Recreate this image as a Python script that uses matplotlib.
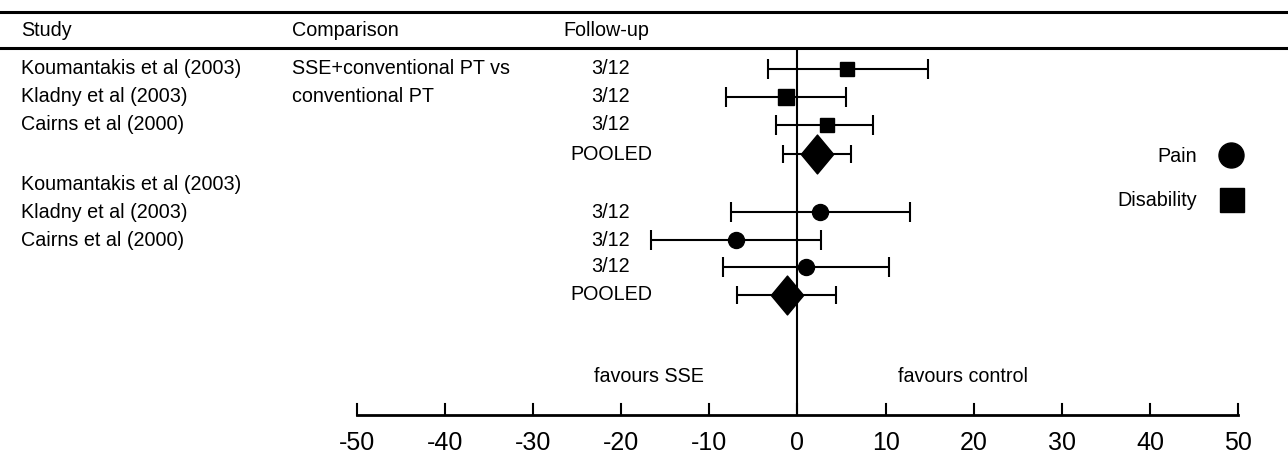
import matplotlib
matplotlib.use("Agg")
import matplotlib.pyplot as plt

plt.rcParams['font.family'] = ['Liberation Sans', 'DejaVu Sans']

# data
studies = ["Koumantakis et al (2003)", "Kladny et al (2003)", "Cairns et al (2000)"]
comparison = ["SSE+conventional PT vs", "conventional PT"]
follow_up = ["3/12", "3/12", "3/12"]

dis_est = [5.6, -1.3, 3.3]
dis_lo = [-3.4, -8.1, -2.4]
dis_hi = [14.8, 5.5, 8.6]
dis_pool = [2.2, -1.7, 6.1]   # est, lo, hi

pain_est = [2.6, -7.0, 1.0]
pain_lo = [-7.6, -16.6, -8.4]
pain_hi = [12.8, 2.7, 10.4]
pain_pool = [-1.2, -6.9, 4.4]

ticks = [-50, -40, -30, -20, -10, 0, 10, 20, 30, 40, 50]

# layout (pixel rows, x in effect units)
W, H = 1288, 457
x0, sc = 797.5, 8.81
def px(x):
    return (x - x0) / sc

dis_y = [69, 97, 125]
dis_pool_y = 154
pain_y = [212, 240, 267]
pain_pool_y = 295
label_y2 = [185, 213, 240]
sq_ms = [10, 12, 10.5]

fig = plt.figure(figsize=(W / 100, H / 100), dpi=100)
ax = fig.add_axes([0, 0, 1, 1])
ax.set_xlim(px(0), px(W))
ax.set_ylim(H, 0)
ax.axis('off')

fs = 14.2
# header lines
ax.axhline(12, color='black', lw=2.2)
ax.axhline(48, color='black', lw=2.2)
ax.text(px(21), 31, "Study", fontsize=fs, va='center')
ax.text(px(292), 31, "Comparison", fontsize=fs, va='center')
ax.text(px(563), 31, "Follow-up", fontsize=fs, va='center')

for i, s in enumerate(studies):
    ax.text(px(21), dis_y[i], s, fontsize=fs, va='center')
    ax.text(px(21), label_y2[i], s, fontsize=fs, va='center')
for i, c in enumerate(comparison):
    ax.text(px(292), dis_y[i], c, fontsize=fs, va='center')
for i, f in enumerate(follow_up):
    ax.text(px(611), dis_y[i], f, fontsize=fs, va='center', ha='center')
    ax.text(px(611), pain_y[i], f, fontsize=fs, va='center', ha='center')
ax.text(px(611), dis_pool_y, "POOLED", fontsize=fs, va='center', ha='center')
ax.text(px(611), pain_pool_y, "POOLED", fontsize=fs, va='center', ha='center')

# zero line
ax.plot([0, 0], [50, 415], color='black', lw=1.5)

ekw = dict(color='black', lw=1.5, capsize=7.5, capthick=1.5, ls='none')
for i in range(3):
    ax.errorbar(dis_est[i], dis_y[i],
                xerr=[[dis_est[i] - dis_lo[i]], [dis_hi[i] - dis_est[i]]],
                marker='s', ms=sq_ms[i], mfc='black', mec='black', **ekw)
    ax.errorbar(pain_est[i], pain_y[i],
                xerr=[[pain_est[i] - pain_lo[i]], [pain_hi[i] - pain_est[i]]],
                marker='o', ms=11.5, mfc='black', mec='black', **ekw)

diamond = [(-1, 0), (0, 1.2), (1, 0), (0, -1.2), (-1, 0)]
for (e, lo, hi), y in [(dis_pool, dis_pool_y), (pain_pool, pain_pool_y)]:
    ax.errorbar(e, y, xerr=[[e - lo], [hi - e]], marker=diamond, ms=28,
                mfc='black', mec='black', color='black', lw=1.5,
                capsize=6.5, capthick=1.5, ls='none')

# legend
ax.text(px(1197), 157, "Pain", fontsize=fs, va='center', ha='right')
ax.plot(px(1231), 155, 'o', color='black', ms=18)
ax.text(px(1197), 201, "Disability", fontsize=fs, va='center', ha='right')
ax.plot(px(1232), 200, 's', color='black', ms=17)

# favours labels
ax.text(px(649), 376, "favours SSE", fontsize=fs, va='center', ha='center')
ax.text(px(963), 376, "favours control", fontsize=fs, va='center', ha='center')

# bottom axis
ax.plot([ticks[0], ticks[-1]], [415, 415], color='black', lw=2)
for t in ticks:
    ax.plot([t, t], [404, 415], color='black', lw=1.5)
    ax.text(t, 443, str(t), fontsize=18, va='center', ha='center',
            family=['Liberation Sans Narrow', 'Liberation Sans'])

fig.savefig("out.png", dpi=100)
